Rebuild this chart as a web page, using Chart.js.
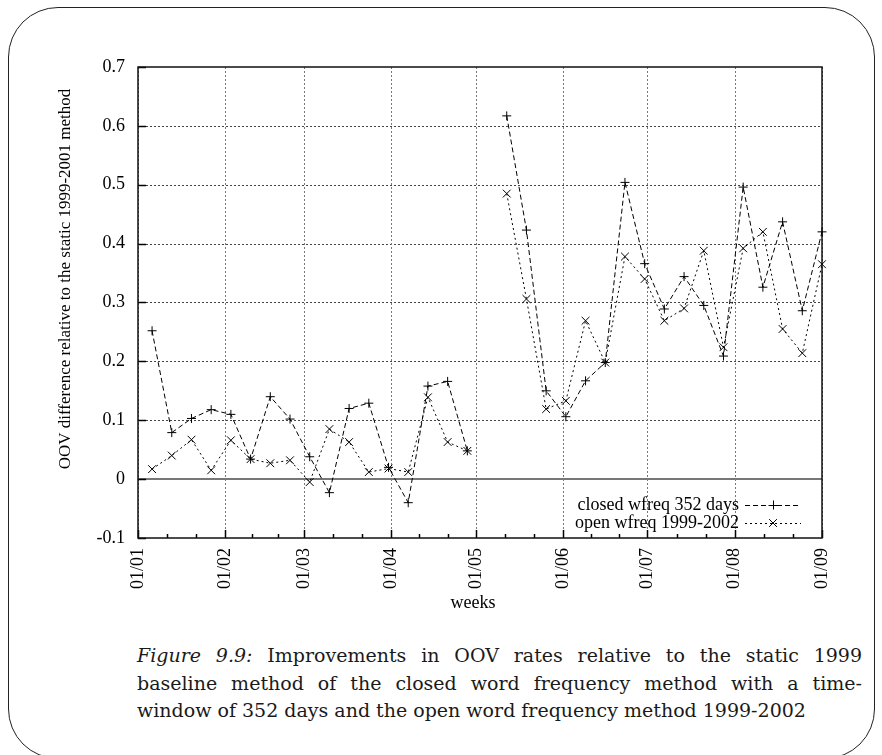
<!DOCTYPE html>
<html>
<head>
<meta charset="utf-8">
<script src="https://cdn.jsdelivr.net/npm/chart.js@4.4.1/dist/chart.umd.min.js"></script>
<style>
  html, body { margin: 0; padding: 0; background: #fff; }
  body { width: 882px; height: 755px; position: relative; overflow: hidden; }
  #box { position: absolute; left: 8px; top: 7px; width: 867px; height: 752px;
         border: 1.5px solid #222; border-radius: 50px; box-sizing: border-box; }
  #chart { position: absolute; left: 0; top: 0; }
  #caption { position: absolute; left: 137px; top: 642px; width: 725px;
             font-family: "DejaVu Serif", serif; font-size: 19px; line-height: 27.5px; color: #1a1a1a; }
  #caption .j { text-align: justify; text-align-last: justify; white-space: nowrap; }
  #caption .l { text-align: left; white-space: nowrap; }
  #caption i { font-style: italic; }
</style>
</head>
<body>
<div id="box"></div>
<canvas id="chart" width="882" height="630"></canvas>
<div id="caption">
  <div class="j"><i>Figure 9.9:</i> Improvements in OOV rates relative to the static 1999</div>
  <div class="j">baseline method of the closed word frequency method with a time-</div>
  <div class="l">window of 352 days and the open word frequency method 1999-2002</div>
</div>
<script>
// ---- data ----
const weekDays = [5,12,19,26,33,40,47,54,61,68,75,82,89,96,103,110,117,124,131,138,145,152,159,166,173,180,187,194,201,208,215,222,229,236,243];
const closedWfreq = [0.252,0.079,0.103,0.118,0.110,0.034,0.140,0.102,0.038,-0.023,0.120,0.129,0.020,-0.040,0.158,0.166,0.048,null,0.617,0.423,0.150,0.106,0.167,0.198,0.504,0.366,0.289,0.344,0.295,0.209,0.496,0.326,0.437,0.286,0.420];
const openWfreq = [0.017,0.040,0.067,0.015,0.066,0.034,0.027,0.032,-0.005,0.085,0.063,0.012,0.018,0.012,0.139,0.063,0.048,null,0.485,0.306,0.119,0.133,0.269,0.198,0.378,0.340,0.269,0.290,0.388,0.224,0.392,0.420,0.255,0.214,0.365];
const monthDays = [0,31,59,90,120,151,181,212,243];
const monthLabels = ['01/01','01/02','01/03','01/04','01/05','01/06','01/07','01/08','01/09'];
const yTickValues = [-0.1,0,0.1,0.2,0.3,0.4,0.5,0.6,0.7];
const yTickLabels = ['-0.1','0','0.1','0.2','0.3','0.4','0.5','0.6','0.7'];
const seriesLabels = ['closed wfreq 352 days','open wfreq 1999-2002'];
const xTitle = 'weeks';
const yTitle = 'OOV difference relative to the static 1999-2001 method';

const FONT = '"Liberation Serif", "Times New Roman", serif';

const framePlugin = {
  id: 'frame',
  beforeDatasetsDraw(chart) {
    const {ctx, chartArea: a, scales: {x, y}} = chart;
    const L = a.left, R = a.right, T = a.top, B = a.bottom;
    function line(x1, y1, x2, y2) { ctx.beginPath(); ctx.moveTo(x1, y1); ctx.lineTo(x2, y2); ctx.stroke(); }
    ctx.save();
    ctx.lineWidth = 1;
    ctx.setLineDash([2, 2]);
    ctx.strokeStyle = '#444';
    y.ticks.forEach(t => {
      if (t.value === 0 || t.value === -0.1 || t.value === 0.7) return;
      const py = Math.round(y.getPixelForValue(t.value)) + 0.5;
      line(L, py, R, py);
    });
    ctx.strokeStyle = '#777';
    x.ticks.forEach(t => {
      const px = Math.round(x.getPixelForValue(t.value)) + 0.5;
      line(px, T, px, B);
    });
    ctx.setLineDash([]);
    ctx.strokeStyle = '#777';
    ctx.lineWidth = 2;
    const y0 = Math.round(y.getPixelForValue(0));
    line(L, y0, R, y0);
    ctx.strokeStyle = '#000';
    ctx.lineWidth = 1.5;
    y.ticks.forEach(t => {
      const py = Math.round(y.getPixelForValue(t.value)) + 0.5;
      line(L, py, L + 8, py);
    });
    x.ticks.forEach((t, i) => {
      const px = Math.round(x.getPixelForValue(t.value)) + 0.5;
      line(px, B, px, B - 8);
      if (i < x.ticks.length - 1) {
        const next = x.ticks[i + 1].value;
        for (let k = 1; k <= 2; k++) {
          const v = t.value + (next - t.value) * k / 3;
          const mx = Math.round(x.getPixelForValue(v)) + 0.5;
          line(mx, B, mx, B - 4);
        }
      }
    });
    ctx.lineWidth = 1.5;
    ctx.strokeStyle = '#111';
    ctx.strokeRect(L, T, R - L, B - T);
    ctx.restore();
  },
  afterDraw(chart) {
    const {ctx} = chart;
    ctx.save();
    ctx.fillStyle = '#000';
    ctx.font = '18px ' + FONT;
    ctx.textAlign = 'center';
    ctx.textBaseline = 'middle';
    ctx.fillText(xTitle, 473, 603);
    ctx.save();
    ctx.font = '17px ' + FONT;
    ctx.translate(66, 279);
    ctx.rotate(-Math.PI / 2);
    ctx.fillText(yTitle, 0, 0);
    ctx.restore();
    const rows = [505, 523];
    chart.data.datasets.forEach((ds, i) => {
      const yy = rows[i];
      ctx.textAlign = 'right';
      ctx.textBaseline = 'middle';
      ctx.fillStyle = '#000';
      ctx.fillText(ds.label, 739, yy);
      ctx.strokeStyle = '#000';
      ctx.lineWidth = 1;
      ctx.setLineDash(ds.borderDash);
      ctx.beginPath(); ctx.moveTo(745, yy + 0.5); ctx.lineTo(801, yy + 0.5); ctx.stroke();
      ctx.setLineDash([]);
      const cx = 773, r = ds.pointRadius;
      ctx.beginPath();
      if (ds.pointStyle === 'cross') {
        ctx.moveTo(cx - r, yy + 0.5); ctx.lineTo(cx + r, yy + 0.5);
        ctx.moveTo(cx + 0.5, yy - r); ctx.lineTo(cx + 0.5, yy + r);
      } else {
        const d = r * Math.SQRT1_2;
        ctx.moveTo(cx - d, yy - d); ctx.lineTo(cx + d, yy + d);
        ctx.moveTo(cx - d, yy + d); ctx.lineTo(cx + d, yy - d);
      }
      ctx.stroke();
    });
    ctx.restore();
  }
};

new Chart(document.getElementById('chart'), {
  type: 'line',
  data: {
    datasets: [
      {
        label: seriesLabels[0],
        data: weekDays.map((d, i) => ({x: d, y: closedWfreq[i]})),
        borderColor: '#000', borderWidth: 1, borderDash: [5, 3],
        pointStyle: 'cross', pointRadius: 4.5, pointBorderColor: '#000', pointBorderWidth: 1,
        pointBackgroundColor: '#000', fill: false, tension: 0, spanGaps: false, clip: false
      },
      {
        label: seriesLabels[1],
        data: weekDays.map((d, i) => ({x: d, y: openWfreq[i]})),
        borderColor: '#000', borderWidth: 1, borderDash: [2, 3],
        pointStyle: 'crossRot', pointRadius: 5.5, pointBorderColor: '#000', pointBorderWidth: 1,
        pointBackgroundColor: '#000', fill: false, tension: 0, spanGaps: false, clip: false
      }
    ]
  },
  options: {
    responsive: false,
    animation: false,
    devicePixelRatio: 1,
    layout: { padding: { left: 0, top: 67, right: 60, bottom: 0 } },
    plugins: { legend: { display: false }, tooltip: { enabled: false } },
    scales: {
      x: {
        type: 'linear', min: 0, max: 243,
        afterBuildTicks: s => { s.ticks = monthDays.map(v => ({value: v})); },
        afterFit: s => { s.height = 92; },
        grid: { display: false, drawTicks: false },
        border: { display: false },
        ticks: {
          autoSkip: false, maxRotation: 90, minRotation: 90, padding: 10,
          color: '#000', font: { family: FONT, size: 18 },
          callback: (v, i) => monthLabels[i]
        }
      },
      y: {
        type: 'linear', min: -0.1, max: 0.7,
        afterBuildTicks: s => { s.ticks = yTickValues.map(v => ({value: v})); },
        afterFit: s => { s.width = 138; },
        grid: { display: false, drawTicks: false },
        border: { display: false },
        ticks: {
          padding: 13, color: '#000', font: { family: FONT, size: 18 },
          callback: (v, i) => yTickLabels[i]
        }
      }
    }
  },
  plugins: [framePlugin]
});
</script>
</body>
</html>
